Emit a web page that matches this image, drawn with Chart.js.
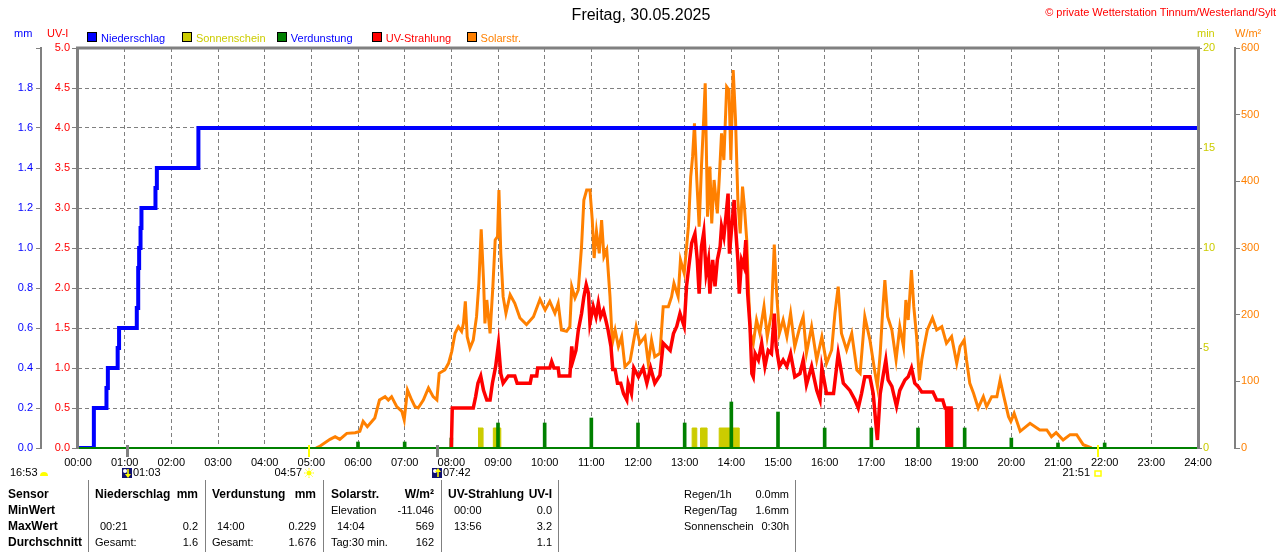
<!DOCTYPE html>
<html lang="de">
<head>
<meta charset="utf-8">
<title>Freitag, 30.05.2025</title>
<script src="https://cdn.jsdelivr.net/npm/chart.js@4.4.1/dist/chart.umd.min.js"></script>
<style>
  html, body { margin: 0; padding: 0; background: #fff; }
  #wrap { position: relative; width: 1280px; height: 552px; overflow: hidden;
          font-family: 'Liberation Sans', Arial, sans-serif; font-size: 11px; line-height: 12px; }
  #wrap canvas { position: absolute; left: 0; top: 0; }
  .t { position: absolute; white-space: nowrap; }
  .r { transform: translateX(-100%); }
  .b { font-weight: bold; font-size: 12px; }
  .sep { position: absolute; top: 480px; width: 1px; height: 72px; background: #808080; }
  .box { position: absolute; top: 32px; width: 8px; height: 8px; border: 1px solid #000; }
</style>
</head>
<body>
<div id="wrap">
  <canvas id="wetter" width="1280" height="552"></canvas>

  <!-- Kopf -->
  <div class="t" style="left:641px;top:7px;font-size:16px;line-height:16px;transform:translateX(-50%)">Freitag, 30.05.2025</div>
  <div class="t r" style="left:1276px;top:6px;color:#ff0000">&copy; private Wetterstation Tinnum/Westerland/Sylt</div>
  <div class="t" style="left:14px;top:27px;color:#0000ff">mm</div>
  <div class="t" style="left:47px;top:27px;color:#ff0000">UV-I</div>
  <div class="t" style="left:1197px;top:27px;color:#cccc00">min</div>
  <div class="t" style="left:1235px;top:27px;color:#ff8000">W/m&sup2;</div>
  <div id="legende"></div>

  <!-- Tabelle unten -->
  <div class="sep" style="left:88px"></div>
  <div class="sep" style="left:205px"></div>
  <div class="sep" style="left:323px"></div>
  <div class="sep" style="left:441px"></div>
  <div class="sep" style="left:558px"></div>
  <div class="sep" style="left:795px"></div>

  <div class="t b" style="left:8px;top:488px">Sensor</div>
  <div class="t b" style="left:8px;top:504px">MinWert</div>
  <div class="t b" style="left:8px;top:520px">MaxWert</div>
  <div class="t b" style="left:8px;top:536px">Durchschnitt</div>

  <div class="t b" style="left:95px;top:488px">Niederschlag</div>
  <div class="t b r" style="left:198px;top:488px">mm</div>
  <div class="t" style="left:100px;top:520px">00:21</div>
  <div class="t r" style="left:198px;top:520px">0.2</div>
  <div class="t" style="left:95px;top:536px">Gesamt:</div>
  <div class="t r" style="left:198px;top:536px">1.6</div>

  <div class="t b" style="left:212px;top:488px">Verdunstung</div>
  <div class="t b r" style="left:316px;top:488px">mm</div>
  <div class="t" style="left:217px;top:520px">14:00</div>
  <div class="t r" style="left:316px;top:520px">0.229</div>
  <div class="t" style="left:212px;top:536px">Gesamt:</div>
  <div class="t r" style="left:316px;top:536px">1.676</div>

  <div class="t b" style="left:331px;top:488px">Solarstr.</div>
  <div class="t b r" style="left:434px;top:488px">W/m&sup2;</div>
  <div class="t" style="left:331px;top:504px">Elevation</div>
  <div class="t r" style="left:434px;top:504px">-11.046</div>
  <div class="t" style="left:337px;top:520px">14:04</div>
  <div class="t r" style="left:434px;top:520px">569</div>
  <div class="t" style="left:331px;top:536px">Tag:30 min.</div>
  <div class="t r" style="left:434px;top:536px">162</div>

  <div class="t b" style="left:448px;top:488px">UV-Strahlung</div>
  <div class="t b r" style="left:552px;top:488px">UV-I</div>
  <div class="t" style="left:454px;top:504px">00:00</div>
  <div class="t r" style="left:552px;top:504px">0.0</div>
  <div class="t" style="left:454px;top:520px">13:56</div>
  <div class="t r" style="left:552px;top:520px">3.2</div>
  <div class="t r" style="left:552px;top:536px">1.1</div>

  <div class="t" style="left:684px;top:488px">Regen/1h</div>
  <div class="t r" style="left:789px;top:488px">0.0mm</div>
  <div class="t" style="left:684px;top:504px">Regen/Tag</div>
  <div class="t r" style="left:789px;top:504px">1.6mm</div>
  <div class="t" style="left:684px;top:520px">Sonnenschein</div>
  <div class="t r" style="left:789px;top:520px">0:30h</div>
</div>

<script>
// Beschriftung der Zeitachse
const hourLabels = ['00:00','01:00','02:00','03:00','04:00','05:00','06:00','07:00','08:00',
  '09:00','10:00','11:00','12:00','13:00','14:00','15:00','16:00','17:00','18:00','19:00',
  '20:00','21:00','22:00','23:00','24:00'];

// Niederschlag kumuliert (Stunde, mm)
const rainTime = [0, 0.34, 0.61, 0.64, 0.85, 0.88, 1.26, 1.29, 1.31, 1.34, 1.36, 1.66, 1.69, 2.58, 24];
const rainMm   = [0, 0.2, 0.3, 0.4, 0.5, 0.6, 0.7, 0.9, 1.0, 1.1, 1.2, 1.3, 1.4, 1.6, 1.6];

// Sonnenschein (Beginn, Ende in Stunden, Minuten)
const sunStart = [8.57, 8.90, 13.16, 13.34, 13.74];
const sunEnd   = [8.68, 9.06, 13.26, 13.48, 14.17];
const sunMin   = [1, 1, 1, 1, 1];

// Verdunstung je Stunde (mm)
const evapHour = [6, 7, 8, 9, 10, 11, 12, 13, 14, 15, 16, 17, 18, 19, 20, 21, 22];
const evapMm   = [0.03, 0.03, 0.05, 0.125, 0.125, 0.15, 0.125, 0.125, 0.23, 0.18, 0.10, 0.10, 0.10, 0.10, 0.05, 0.025, 0.025];

// UV-Strahlung (Stunde, UV-I)
const uvTime = [8.00, 8.02, 8.47, 8.52, 8.57, 8.63, 8.69, 8.76, 8.83, 8.88, 8.95, 9.01, 9.06, 9.11, 9.22,
  9.36, 9.41, 9.69, 9.72, 9.83, 9.85, 10.11, 10.15, 10.20, 10.29, 10.31, 10.54, 10.58, 10.61, 10.67,
  10.72, 10.79, 10.84, 10.89, 10.94, 10.97, 11.04, 11.10, 11.15, 11.20, 11.26, 11.31, 11.36, 11.42,
  11.46, 11.51, 11.56, 11.63, 11.69, 11.76, 11.79, 11.86, 11.91, 12.01, 12.11, 12.19, 12.27, 12.36,
  12.47, 12.54, 12.69, 12.76, 12.83, 12.90, 12.99, 13.04, 13.09, 13.15, 13.22, 13.27, 13.31, 13.36,
  13.41, 13.46, 13.51, 13.54, 13.60, 13.65, 13.70, 13.76, 13.79, 13.84, 13.89, 13.93, 13.96, 14.01,
  14.06, 14.10, 14.14, 14.17, 14.22, 14.27, 14.31, 14.35, 14.40, 14.44, 14.47, 14.51, 14.58, 14.65,
  14.72, 14.79, 14.86, 14.92, 14.96, 15.03, 15.11, 15.19, 15.27, 15.36, 15.47, 15.54, 15.61, 15.72,
  15.83, 15.90, 15.94, 16.04, 16.19, 16.29, 16.40, 16.54, 16.65, 16.72, 16.79, 16.86, 16.97, 17.04,
  17.09, 17.13, 17.19, 17.26, 17.31, 17.36, 17.44, 17.54, 17.61, 17.72, 17.79, 17.86, 17.93, 18.00,
  18.08, 18.32, 18.40, 18.53, 18.58, 18.61, 18.62, 18.66, 18.67, 18.71, 18.72];
const uvIndex = [0, 0.5, 0.5, 0.64, 0.81, 0.9, 0.72, 0.6, 0.6, 0.81, 1.02, 1.3, 0.93, 0.81, 0.9,
  0.9, 0.81, 0.81, 0.9, 0.9, 1.0, 1.0, 1.08, 1.0, 1.0, 0.9, 0.9, 1.27, 1.1, 1.22,
  1.47, 1.68, 1.89, 2.04, 1.93, 1.56, 1.77, 1.64, 1.81, 1.64, 1.72, 1.6, 1.47, 1.27,
  0.98, 0.98, 0.81, 0.81, 0.68, 0.6, 0.81, 0.68, 1.0, 0.89, 1.0, 0.81, 1.0, 0.81,
  0.91, 1.31, 1.22, 1.43, 1.52, 1.68, 1.52, 2.02, 2.27, 2.56, 2.68, 2.35, 1.93, 2.52,
  2.7, 2.18, 2.35, 1.93, 2.35, 2.02, 2.35, 2.52, 2.77, 2.64, 2.93, 3.18, 2.43, 2.77,
  3.1, 2.68, 2.35, 1.93, 2.35, 2.27, 2.6, 1.93, 1.52, 0.93, 0.89, 1.18, 1.1, 1.31,
  1.02, 1.22, 1.18, 1.68, 1.27, 1.02, 1.1, 1.02, 1.18, 0.89, 0.93, 1.1, 0.79, 1.02,
  0.72, 0.6, 1.0, 0.68, 0.68, 1.18, 0.81, 0.72, 0.6, 0.5, 0.68, 0.89, 0.89, 0.68,
  0.35, 0.1, 0.68, 0.93, 1.1, 0.85, 0.77, 0.52, 0.72, 0.85, 0.89, 1.0, 0.81, 0.77,
  0.7, 0.7, 0.6, 0.6, 0.5, 0.5, 0, 0, 0.5, 0.5, 0];

// Solarstrahlung (Stunde, W/m²)
const solarTime = [5.10, 5.19, 5.40, 5.51, 5.61, 5.76, 5.94, 6.04, 6.11, 6.20, 6.36, 6.46, 6.58, 6.65,
  6.72, 6.83, 6.94, 6.99, 7.06, 7.15, 7.22, 7.29, 7.40, 7.51, 7.61, 7.69, 7.74, 7.86, 7.94, 8.01,
  8.08, 8.15, 8.22, 8.26, 8.30, 8.34, 8.40, 8.47, 8.54, 8.59, 8.64, 8.69, 8.72, 8.76, 8.83, 8.89,
  8.94, 8.99, 9.02, 9.06, 9.11, 9.17, 9.26, 9.36, 9.47, 9.61, 9.76, 9.90, 10.01, 10.11, 10.22,
  10.29, 10.36, 10.47, 10.54, 10.58, 10.65, 10.72, 10.79, 10.84, 10.90, 10.97, 11.02, 11.06,
  11.11, 11.17, 11.22, 11.27, 11.33, 11.40, 11.45, 11.51, 11.58, 11.65, 11.72, 11.83, 11.96,
  12.04, 12.15, 12.22, 12.29, 12.36, 12.47, 12.54, 12.65, 12.72, 12.77, 12.86, 12.91, 12.99,
  13.08, 13.13, 13.17, 13.21, 13.26, 13.31, 13.36, 13.41, 13.44, 13.49, 13.54, 13.58, 13.63,
  13.70, 13.74, 13.79, 13.84, 13.90, 13.95, 13.99, 14.04, 14.09, 14.14, 14.19, 14.24, 14.28,
  14.33, 14.37, 14.41, 14.47, 14.54, 14.61, 14.70, 14.77, 14.86, 14.92, 14.97, 15.03, 15.11,
  15.19, 15.27, 15.36, 15.47, 15.54, 15.61, 15.72, 15.83, 15.94, 16.04, 16.15, 16.22, 16.29,
  16.36, 16.47, 16.58, 16.69, 16.76, 16.86, 16.97, 17.08, 17.13, 17.19, 17.24, 17.29, 17.35,
  17.44, 17.53, 17.61, 17.69, 17.74, 17.79, 17.86, 17.91, 17.97, 18.03, 18.08, 18.13, 18.20,
  18.31, 18.40, 18.51, 18.61, 18.72, 18.83, 18.90, 18.99, 19.04, 19.11, 19.19, 19.29, 19.40,
  19.47, 19.58, 19.69, 19.76, 19.84, 19.94, 19.99, 20.06, 20.19, 20.40, 20.61, 20.76, 20.86,
  20.96, 21.11, 21.26, 21.40, 21.54, 21.65, 21.72];
const solarW = [0, 3, 13, 17, 13, 22, 23, 25, 40, 32, 45, 72, 77, 72,
  77, 62, 55, 42, 87, 72, 62, 60, 72, 90, 77, 72, 112, 117, 127, 145,
  172, 182, 175, 187, 220, 167, 150, 162, 197, 247, 328, 252, 187, 222, 172, 242,
  312, 317, 387, 292, 227, 202, 230, 217, 195, 185, 197, 223, 207, 220, 202,
  217, 177, 175, 182, 242, 225, 237, 302, 372, 387, 387, 342, 285,
  325, 292, 342, 287, 297, 227, 157, 177, 152, 167, 122, 130, 182,
  157, 167, 127, 162, 137, 142, 212, 212, 227, 247, 227, 282, 262,
  332, 407, 437, 487, 402, 332, 422, 497, 547, 347, 422, 337, 402,
  352, 402, 472, 432, 542, 537, 432, 567, 492, 372, 322, 392, 362,
  312, 232, 172, 157, 192, 172, 212, 167, 202, 305, 232, 172, 192,
  167, 202, 152, 182, 197, 142, 182, 132, 167, 127, 147, 202, 242,
  172, 147, 172, 117, 112, 197, 162, 112, 92, 142, 202, 252, 197,
  177, 132, 182, 152, 222, 192, 267, 212, 167, 102, 132, 152, 177,
  195, 177, 182, 157, 167, 127, 152, 162, 132, 97, 82, 60, 77,
  62, 77, 77, 102, 77, 47, 40, 52, 25, 37, 27, 27, 17,
  23, 12, 20, 20, 5, 2, 0];

// Sonnen- und Mondzeiten unter der Achse
const eventTime = [1.05, 4.95, 7.70, 21.85];
const eventText = ['01:03', '04:57', '07:42', '21:51'];
const eventKind = ['moonDown', 'sunUp', 'moonUp', 'sunDown'];
const prevDayText = '16:53';

const legendNames = ['Niederschlag', 'Sonnenschein', 'Verdunstung', 'UV-Strahlung', 'Solarstr.'];

const farbe = { blau: '#0000ff', gelb: '#cccc00', gruen: '#008000', rot: '#ff0000', orange: '#ff8000', grau: '#808080' };
const legendBox  = [farbe.blau, farbe.gelb, farbe.gruen, farbe.rot, farbe.orange];
const legendText = [farbe.blau, farbe.gelb, farbe.blau, farbe.rot, farbe.orange];

// Legende oben
const legende = document.getElementById('legende');
legendNames.forEach((name, i) => {
  const x = 87 + i * 94.9;
  const box = document.createElement('div');
  box.className = 'box';
  box.style.left = x + 'px';
  box.style.background = legendBox[i];
  legende.appendChild(box);
  const t = document.createElement('div');
  t.className = 't';
  t.style.left = (x + 14) + 'px';
  t.style.top = '32px';
  t.style.color = legendText[i];
  t.textContent = name;
  legende.appendChild(t);
});

const pts = (xs, ys) => xs.map((x, i) => ({ x: x, y: ys[i] }));

// Sonnenschein als Treppen-Flächen
const sunPoints = [];
sunStart.forEach((s, i) => {
  sunPoints.push({ x: s, y: sunMin[i] });
  sunPoints.push({ x: sunEnd[i], y: 0 });
});

// Rahmen um den Diagrammbereich
const rahmen = {
  id: 'rahmen',
  afterDatasetsDraw(chart) {
    const { ctx, chartArea: a } = chart;
    ctx.save();
    ctx.lineWidth = 2;
    ctx.strokeStyle = farbe.gruen;
    ctx.beginPath();
    ctx.moveTo(a.left, a.bottom);
    ctx.lineTo(a.right, a.bottom);
    ctx.stroke();
    ctx.lineWidth = 3;
    ctx.strokeStyle = farbe.grau;
    ctx.beginPath();
    ctx.moveTo(a.left - 0.5, a.bottom + 1);
    ctx.lineTo(a.left - 0.5, a.top);
    ctx.lineTo(a.right + 0.5, a.top);
    ctx.lineTo(a.right + 0.5, a.bottom + 1);
    ctx.stroke();
    ctx.restore();
  }
};

// Sonnen-/Mondmarken unter der Zeitachse
const marken = {
  id: 'marken',
  afterDraw(chart) {
    const { ctx, chartArea: a } = chart;
    const xs = chart.scales.x;
    const y = a.bottom + 25;
    ctx.save();
    ctx.font = '11px "Liberation Sans", Arial, sans-serif';
    ctx.textBaseline = 'middle';

    // Vortag
    ctx.fillStyle = '#000';
    ctx.textAlign = 'left';
    ctx.fillText(prevDayText, a.left - 68, y);
    ctx.fillStyle = '#ffff00';
    ctx.beginPath();
    ctx.arc(a.left - 34, y + 3, 4, Math.PI, 0);
    ctx.closePath();
    ctx.fill();

    eventTime.forEach((t, i) => {
      const x = Math.round(xs.getPixelForValue(t));
      const kind = eventKind[i];
      const mond = kind.startsWith('moon');
      ctx.fillStyle = mond ? farbe.grau : '#ffff00';
      ctx.fillRect(x - 1, a.bottom - 3, mond ? 3 : 2, 12);

      ctx.fillStyle = '#000';
      if (mond) {
        ctx.fillStyle = '#101070';
        ctx.fillRect(x - 5, y - 5, 10, 10);
        ctx.fillStyle = '#ffffff';
        ctx.beginPath();
        ctx.arc(x - 2, y - 2, 2, 0, Math.PI * 2);
        ctx.fill();
        ctx.strokeStyle = '#ffff00';
        ctx.fillStyle = '#ffff00';
        ctx.lineWidth = 1.5;
        ctx.beginPath();
        const dir = kind === 'moonDown' ? 1 : -1;
        ctx.moveTo(x + 1, y - 4 * dir);
        ctx.lineTo(x + 1, y + 3 * dir);
        ctx.stroke();
        ctx.beginPath();
        ctx.moveTo(x - 2, y + 1 * dir);
        ctx.lineTo(x + 4, y + 1 * dir);
        ctx.lineTo(x + 1, y + 5 * dir);
        ctx.closePath();
        ctx.fill();
        ctx.fillStyle = '#000';
        ctx.textAlign = 'left';
        ctx.fillText(eventText[i], x + 6, y);
      } else if (kind === 'sunUp') {
        ctx.fillStyle = '#ffff00';
        ctx.strokeStyle = '#ffff00';
        ctx.lineWidth = 1;
        ctx.beginPath();
        ctx.arc(x, y, 2.5, 0, Math.PI * 2);
        ctx.fill();
        for (let k = 0; k < 8; k++) {
          const w = k * Math.PI / 4;
          ctx.beginPath();
          ctx.moveTo(x + Math.cos(w) * 3.5, y + Math.sin(w) * 3.5);
          ctx.lineTo(x + Math.cos(w) * 5, y + Math.sin(w) * 5);
          ctx.stroke();
        }
        ctx.fillStyle = '#000';
        ctx.textAlign = 'right';
        ctx.fillText(eventText[i], x - 7, y);
      } else {
        ctx.strokeStyle = '#ffff00';
        ctx.lineWidth = 1.5;
        ctx.strokeRect(x - 3, y - 2, 6, 5);
        ctx.fillStyle = '#000';
        ctx.textAlign = 'right';
        ctx.fillText(eventText[i], x - 8, y);
      }
    });
    ctx.restore();
  }
};

Chart.defaults.font.family = '"Liberation Sans", Arial, sans-serif';
Chart.defaults.font.size = 11;

const ctx = document.getElementById('wetter');
new Chart(ctx, {
  type: 'line',
  data: {
    datasets: [
      {
        label: legendNames[0],
        data: pts(rainTime, rainMm),
        yAxisID: 'mm',
        stepped: true,
        borderColor: farbe.blau,
        borderWidth: 4,
        pointRadius: 0,
        order: 0
      },
      {
        label: legendNames[1],
        data: sunPoints,
        yAxisID: 'min',
        stepped: true,
        fill: 'origin',
        borderColor: farbe.gelb,
        backgroundColor: farbe.gelb,
        borderWidth: 1,
        pointRadius: 0,
        order: 4
      },
      {
        type: 'bar',
        label: legendNames[2],
        data: pts(evapHour, evapMm),
        yAxisID: 'mm',
        backgroundColor: farbe.gruen,
        barThickness: 3,
        order: 2
      },
      {
        label: legendNames[3],
        data: pts(uvTime, uvIndex),
        yAxisID: 'uv',
        borderColor: farbe.rot,
        borderWidth: 3.5,
        pointRadius: 0,
        tension: 0,
        order: 1
      },
      {
        label: legendNames[4],
        data: pts(solarTime, solarW),
        yAxisID: 'solar',
        borderColor: farbe.orange,
        borderWidth: 3,
        pointRadius: 0,
        tension: 0,
        order: 3
      }
    ]
  },
  options: {
    responsive: false,
    animation: false,
    layout: { padding: { left: 0, right: 0, top: 48, bottom: 74 } },
    plugins: {
      legend: { display: false },
      tooltip: { enabled: false }
    },
    scales: {
      x: {
        type: 'linear',
        min: 0,
        max: 24,
        offset: false,
        afterFit: (s) => { s.height = 30; },
        ticks: {
          stepSize: 1,
          autoSkip: false,
          maxRotation: 0,
          color: '#000',
          padding: 8,
          callback: (v) => hourLabels[v]
        },
        grid: { color: farbe.grau, drawTicks: false, offset: false },
        border: { display: false, dash: [4, 3] }
      },
      mm: {
        position: 'left',
        weight: 1,
        min: 0,
        max: 2,
        afterFit: (s) => { s.width = 41; },
        ticks: {
          stepSize: 0.2,
          color: farbe.blau,
          padding: 3,
          callback: (v) => (v >= 2 ? '' : v.toFixed(1))
        },
        grid: { drawOnChartArea: false, tickLength: 5, tickColor: farbe.grau },
        border: { color: farbe.grau, width: 2 }
      },
      uv: {
        position: 'left',
        weight: 0,
        min: 0,
        max: 5,
        afterFit: (s) => { s.width = 37; },
        ticks: {
          stepSize: 0.5,
          color: farbe.rot,
          padding: 2,
          callback: (v) => v.toFixed(1)
        },
        grid: { color: farbe.grau, tickLength: 6, tickColor: farbe.grau, tickBorderDash: [] },
        border: { display: false, dash: [4, 3] }
      },
      min: {
        position: 'right',
        weight: 0,
        min: 0,
        max: 20,
        afterFit: (s) => { s.width = 37; },
        ticks: { stepSize: 5, color: farbe.gelb, padding: 1 },
        grid: { drawOnChartArea: false, tickLength: 4, tickColor: farbe.grau },
        border: { display: false }
      },
      solar: {
        position: 'right',
        weight: 1,
        min: 0,
        max: 600,
        afterFit: (s) => { s.width = 45; },
        ticks: { stepSize: 100, color: farbe.orange, padding: 1 },
        grid: { drawOnChartArea: false, tickLength: 5, tickColor: farbe.grau },
        border: { color: farbe.grau, width: 2 }
      }
    }
  },
  plugins: [rahmen, marken]
});
</script>
</body>
</html>
